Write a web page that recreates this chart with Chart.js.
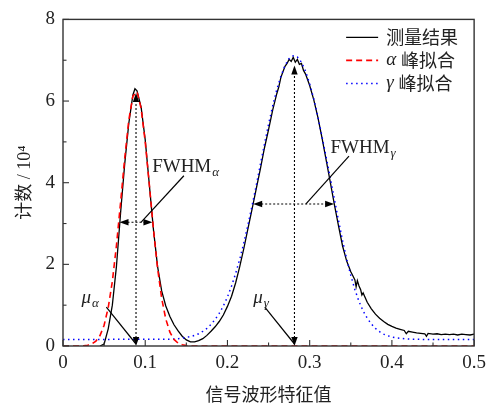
<!DOCTYPE html>
<html>
<head>
<meta charset="utf-8">
<script src="https://cdn.jsdelivr.net/npm/chart.js@4/dist/chart.umd.min.js"></script>
<style>
html,body{margin:0;padding:0;background:#fff;}
#wrap{width:492px;height:403px;}
</style>
</head>
<body>
<div id="wrap"><canvas id="c" width="492" height="403"></canvas></div>
<script>
// ---------------- data ----------------
const seriesNames = ['测量结果', 'α 峰拟合', 'γ 峰拟合'];
const xTickLabels = ['0', '0.1', '0.2', '0.3', '0.4', '0.5'];
const yTickLabels = ['0', '2', '4', '6', '8'];

// measured curve (black)
const measX = [0.045,0.05,0.055,0.06,0.065,0.07,0.075,0.08,0.085,0.0875,0.09,0.095,0.10,0.105,0.11,0.115,0.12,0.125,0.13,0.135,0.14,0.145,0.15,0.155,0.16,0.165,0.17,0.175,0.18,0.185,0.19,0.195,0.20,0.205,0.21,0.215,0.22,0.225,0.23,0.235,0.24,0.245,0.25,0.255,0.26,0.2625,0.265,0.2675,0.27,0.2725,0.275,0.2775,0.28,0.2825,0.285,0.2875,0.29,0.2925,0.295,0.2975,0.30,0.305,0.31,0.315,0.32,0.325,0.33,0.335,0.34,0.345,0.35,0.3525,0.355,0.3565,0.358,0.36,0.362,0.3635,0.365,0.37,0.375,0.38,0.385,0.39,0.395,0.40,0.405,0.41,0.415,0.4175,0.42,0.425,0.43,0.435,0.44,0.442,0.444,0.45,0.455,0.46,0.465,0.47,0.475,0.48,0.485,0.49,0.495,0.50];
const measY = [0,0.05,0.42,1.00,1.95,3.25,4.45,5.45,6.15,6.30,6.25,5.85,5.05,3.95,2.85,1.95,1.35,0.98,0.72,0.52,0.37,0.24,0.15,0.10,0.10,0.13,0.18,0.26,0.36,0.47,0.60,0.76,0.97,1.22,1.55,1.95,2.40,2.88,3.36,3.85,4.33,4.85,5.30,5.78,6.18,6.35,6.58,6.72,6.85,6.92,7.02,6.97,7.07,6.95,7.02,6.90,6.92,6.75,6.66,6.52,6.38,6.03,5.60,5.10,4.56,4.02,3.47,2.95,2.45,2.08,1.82,1.72,1.62,1.45,1.60,1.47,1.38,1.25,1.30,1.07,0.91,0.78,0.68,0.60,0.53,0.48,0.44,0.41,0.38,0.30,0.36,0.34,0.32,0.31,0.30,0.24,0.31,0.29,0.30,0.28,0.29,0.28,0.29,0.27,0.29,0.28,0.27,0.29];

// alpha-peak fit (red dashed)
const alphaX = [0,0.02,0.025,0.03,0.035,0.04,0.045,0.05,0.055,0.06,0.065,0.07,0.075,0.08,0.085,0.09,0.095,0.10,0.105,0.11,0.115,0.12,0.125,0.13,0.135,0.14,0.145,0.15,0.155,0.5];
const alphaY = [0,0,0.005,0.02,0.05,0.12,0.255,0.51,0.94,1.58,2.46,3.51,4.59,5.53,6.12,6.23,5.82,5.00,3.95,2.86,1.91,1.17,0.66,0.34,0.16,0.07,0.03,0.01,0,0];

// gamma-peak fit (blue dotted)
const gammaX = [0,0.13,0.135,0.14,0.145,0.15,0.155,0.16,0.165,0.17,0.175,0.18,0.185,0.19,0.195,0.20,0.205,0.21,0.215,0.22,0.225,0.23,0.235,0.24,0.245,0.25,0.255,0.26,0.265,0.27,0.275,0.28,0.285,0.29,0.295,0.30,0.305,0.31,0.315,0.32,0.325,0.33,0.335,0.34,0.345,0.35,0.355,0.36,0.365,0.37,0.375,0.38,0.385,0.39,0.395,0.40,0.405,0.41,0.42,0.43,0.44,0.5];
const gammaY = [0.16,0.165,0.17,0.18,0.19,0.21,0.23,0.26,0.30,0.36,0.43,0.53,0.65,0.80,0.98,1.20,1.47,1.78,2.13,2.53,2.97,3.44,3.93,4.44,4.94,5.43,5.88,6.28,6.61,6.87,7.04,7.11,7.08,6.95,6.73,6.42,6.05,5.61,5.13,4.63,4.12,3.60,3.08,2.58,2.13,1.73,1.38,1.09,0.86,0.68,0.54,0.43,0.35,0.29,0.25,0.22,0.20,0.19,0.17,0.165,0.16,0.16];

// peak markers (data units)
const peakMu    = [0.0888, 0.2815];
const peakTop   = [6.20, 6.87];
const halfLevel = [3.03, 3.48];
const halfLeft  = [0.0687, 0.2313];
const halfRight = [0.1088, 0.3297];
const peakSym   = ['α', 'γ'];

// annotation placement (data units)
const annot = [
  { fwText:{x:0.1084,y:4.25}, fwLine:[[0.1470,4.17],[0.0948,3.03]], muText:{x:0.0225,y:1.06}, muLine:[[0.0527,0.95]] },
  { fwText:{x:0.3253,y:4.73}, fwLine:[[0.3478,4.65],[0.2955,3.48]], muText:{x:0.2313,y:1.06}, muLine:[[0.2454,0.95]] }
];

const xy = (xs, ys) => xs.map((x, i) => ({x: x, y: ys[i]}));

const SERIF = '"Liberation Serif", "DejaVu Serif", serif';
const CJK = '"Noto Sans CJK SC", sans-serif';
const TXT = '#222';

function arrowHead(ctx, tx, ty, dx, dy, len, hw) {
  const L = Math.hypot(dx, dy); dx /= L; dy /= L;
  const bx = tx - dx * len, by = ty - dy * len;
  ctx.beginPath();
  ctx.moveTo(tx, ty);
  ctx.lineTo(bx - dy * hw, by + dx * hw);
  ctx.lineTo(bx + dy * hw, by - dx * hw);
  ctx.closePath();
  ctx.fill();
}

const decor = {
  id: 'decor',
  afterDatasetsDraw(chart) {
    const ctx = chart.ctx, xs = chart.scales.x, ys = chart.scales.y, ca = chart.chartArea;
    const px = v => xs.getPixelForValue(v), py = v => ys.getPixelForValue(v);
    ctx.save();
    ctx.strokeStyle = '#000'; ctx.fillStyle = '#000';
    for (let i = 0; i < peakMu.length; i++) {
      const mx = px(peakMu[i]), y0 = py(0), yt = py(peakTop[i]);
      ctx.lineWidth = 1.1; ctx.setLineDash([2, 2]);
      ctx.beginPath(); ctx.moveTo(mx, y0 - 8); ctx.lineTo(mx, yt + 8); ctx.stroke();
      ctx.setLineDash([]);
      arrowHead(ctx, mx, yt, 0, -1, 9, 3.2);
      arrowHead(ctx, mx, y0, 0, 1, 9, 3.2);
      const hy = py(halfLevel[i]), hl = px(halfLeft[i]), hr = px(halfRight[i]);
      ctx.setLineDash([2, 2]);
      ctx.beginPath(); ctx.moveTo(hl + 8, hy); ctx.lineTo(hr - 8, hy); ctx.stroke();
      ctx.setLineDash([]);
      arrowHead(ctx, hl, hy, -1, 0, 9, 3.2);
      arrowHead(ctx, hr, hy, 1, 0, 9, 3.2);
      const a = annot[i];
      ctx.lineWidth = 1.2;
      ctx.beginPath();
      ctx.moveTo(px(a.fwLine[0][0]), py(a.fwLine[0][1]));
      ctx.lineTo(px(a.fwLine[1][0]), py(a.fwLine[1][1]));
      ctx.stroke();
      ctx.beginPath();
      ctx.moveTo(px(a.muLine[0][0]), py(a.muLine[0][1]));
      ctx.lineTo(mx, y0 - 2);
      ctx.stroke();
      ctx.fillStyle = TXT;
      ctx.textAlign = 'left'; ctx.textBaseline = 'alphabetic';
      ctx.font = '19px ' + SERIF;
      const fx = px(a.fwText.x), fy = py(a.fwText.y);
      ctx.fillText('FWHM', fx, fy);
      let w = ctx.measureText('FWHM').width;
      ctx.font = 'italic 13px ' + SERIF;
      ctx.fillText(peakSym[i], fx + w + 1, fy + 4);
      ctx.font = 'italic 19px ' + SERIF;
      const ux = px(a.muText.x), uy = py(a.muText.y);
      ctx.fillText('μ', ux, uy);
      w = ctx.measureText('μ').width;
      ctx.font = 'italic 13px ' + SERIF;
      ctx.fillText(peakSym[i], ux + w + 1, uy + 4);
      ctx.fillStyle = '#000';
    }
    ctx.restore();
  },
  afterDraw(chart) {
    const ctx = chart.ctx, xs = chart.scales.x, ys = chart.scales.y, ca = chart.chartArea;
    ctx.save();
    ctx.strokeStyle = '#333'; ctx.lineWidth = 1.4;
    ctx.strokeRect(ca.left, ca.top, ca.right - ca.left, ca.bottom - ca.top);
    ctx.lineWidth = 1.1;
    for (let k = 0; k <= 10; k++) {
      const v = k * 0.05, x = xs.getPixelForValue(v), len = (k % 2 === 0) ? 6 : 3.5;
      ctx.beginPath(); ctx.moveTo(x, ca.bottom); ctx.lineTo(x, ca.bottom - len); ctx.stroke();
    }
    for (let k = 0; k <= 8; k++) {
      const y = ys.getPixelForValue(k), len = (k % 2 === 0) ? 6 : 3.5;
      ctx.beginPath(); ctx.moveTo(ca.left, y); ctx.lineTo(ca.left + len, y); ctx.stroke();
    }
    const ds = chart.data.datasets;
    ctx.textBaseline = 'middle'; ctx.textAlign = 'left';
    for (let i = 0; i < ds.length; i++) {
      const y = ca.top + 18 + i * 23;
      const x0 = ca.right - 128, x1 = ca.right - 96;
      ctx.strokeStyle = ds[i].borderColor;
      ctx.lineWidth = ds[i].borderWidth;
      ctx.setLineDash(ds[i].borderDash || []);
      ctx.beginPath(); ctx.moveTo(x0, y); ctx.lineTo(x1, y); ctx.stroke();
      ctx.setLineDash([]);
      ctx.fillStyle = TXT;
      const name = ds[i].label;
      let tx = ca.right - 88;
      if (/^[α-ω]/.test(name)) {
        ctx.font = 'italic 19px ' + SERIF;
        ctx.fillText(name[0], tx, y);
        tx += ctx.measureText(name[0]).width + 5;
        ctx.font = '18px ' + CJK;
        ctx.fillText(name.slice(1).trim(), tx, y);
      } else {
        ctx.font = '18px ' + CJK;
        ctx.fillText(name, tx, y);
      }
    }
    ctx.restore();
  }
};

new Chart(document.getElementById('c'), {
  type: 'scatter',
  data: {
    datasets: [
      { label: seriesNames[0], data: xy(measX, measY), showLine: true, pointRadius: 0,
        borderColor: '#000000', borderWidth: 1.3, order: 3 },
      { label: seriesNames[1], data: xy(alphaX, alphaY), showLine: true, pointRadius: 0,
        borderColor: '#ff0000', borderWidth: 1.6, borderDash: [6, 4], order: 1 },
      { label: seriesNames[2], data: xy(gammaX, gammaY), showLine: true, pointRadius: 0,
        borderColor: '#0000ff', borderWidth: 1.5, borderDash: [1.5, 3.5], order: 2 }
    ]
  },
  options: {
    responsive: false,
    animation: false,
    devicePixelRatio: 1,
    layout: { padding: { left: 0, top: 15, right: 14, bottom: 0 } },
    plugins: { legend: { display: false }, tooltip: { enabled: false } },
    scales: {
      x: {
        type: 'linear', min: 0, max: 0.5,
        grid: { display: false, drawTicks: false },
        border: { display: false },
        ticks: { stepSize: 0.1, autoSkip: false, maxRotation: 0, padding: 6,
                 color: TXT, font: { family: SERIF, size: 19 },
                 callback: (v, i) => xTickLabels[i] },
        title: { display: true, text: '信号波形特征值', color: TXT,
                 font: { family: CJK, size: 18, lineHeight: 1.0 }, padding: { top: 0, bottom: 0 } },
        afterFit: s => { s.height = 57; }
      },
      y: {
        type: 'linear', min: 0, max: 8,
        grid: { display: false, drawTicks: false },
        border: { display: false },
        ticks: { stepSize: 2, autoSkip: false, padding: 8,
                 color: TXT, font: { family: SERIF, size: 19 },
                 callback: (v, i) => yTickLabels[i] },
        title: { display: true, text: '计数 / 10⁴', color: TXT,
                 font: { family: SERIF + ', ' + CJK, size: 18, lineHeight: 1.2 }, padding: { top: 14, bottom: 0 } },
        afterFit: s => { s.width = 63; }
      }
    }
  },
  plugins: [decor]
});
</script>
</body>
</html>
